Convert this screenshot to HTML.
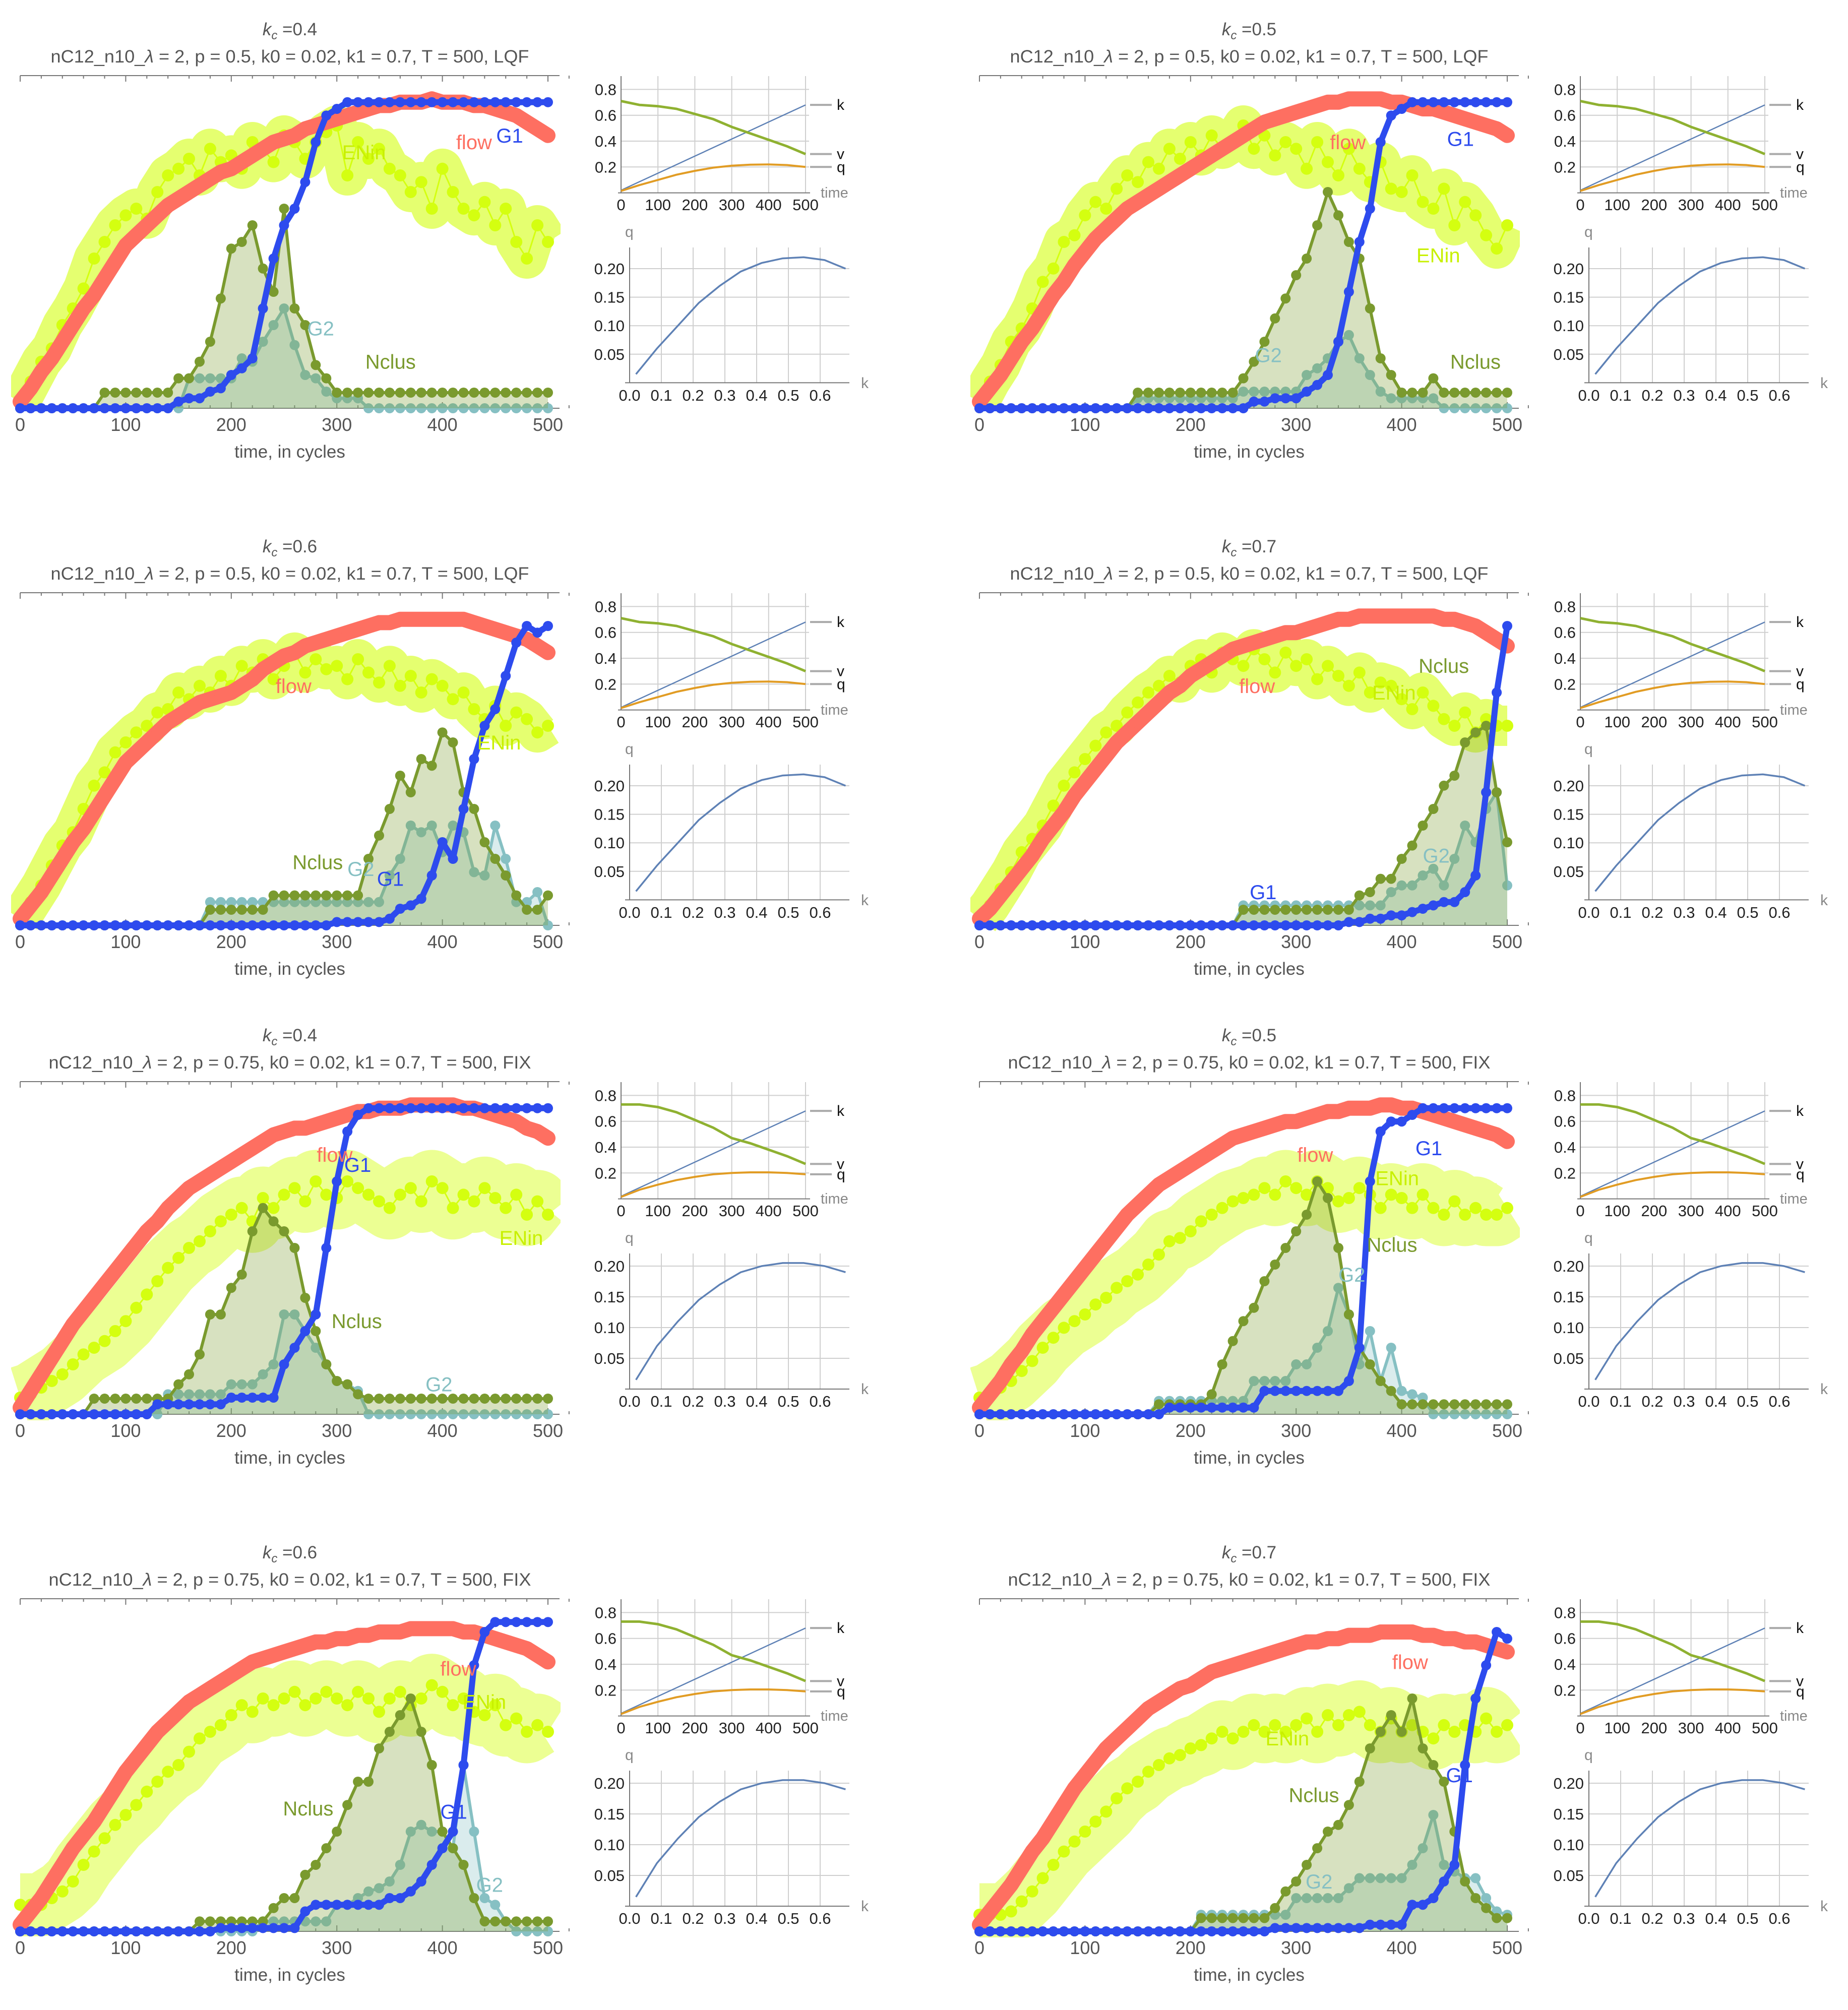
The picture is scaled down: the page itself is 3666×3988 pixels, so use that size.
<!DOCTYPE html>
<html><head><meta charset="utf-8"><title>Traffic simulation panels</title>
<style>html,body{margin:0;padding:0;background:#fff}svg{display:block}text{font-family:"Liberation Sans",Arial,sans-serif}</style>
</head><body>
<svg id="chart" xmlns="http://www.w3.org/2000/svg" width="3666" height="3988" viewBox="0 0 3666 3988">
<defs><clipPath id="plotclip"><rect x="22" y="152" width="1090" height="670"/></clipPath></defs>
<rect width="3666" height="3988" fill="#fff"/>
</svg>
<script>
const tGrid=[0,10,20,30,40,50,60,70,80,90,100,110,120,130,140,150,160,170,180,190,200,210,220,230,240,250,260,270,280,290,300,310,320,330,340,350,360,370,380,390,400,410,420,430,440,450,460,470,480,490,500];
const xTicks=[0,100,200,300,400,500];
const sTime=[0,50,100,150,200,250,300,350,400,450,500];
const kT=[0.02,0.086,0.152,0.218,0.284,0.35,0.416,0.482,0.548,0.614,0.68];
const vLQF=[0.71,0.68,0.67,0.65,0.61,0.57,0.51,0.46,0.41,0.36,0.3];
const qLQF=[0.015,0.06,0.1,0.14,0.17,0.195,0.21,0.218,0.22,0.215,0.2];
const vFIX=[0.73,0.73,0.71,0.67,0.61,0.55,0.47,0.43,0.38,0.33,0.27];
const qFIX=[0.015,0.07,0.11,0.145,0.17,0.19,0.2,0.205,0.205,0.2,0.19];
const sYTicks=[0.2,0.4,0.6,0.8];
const sYLabels=['0.2','0.4','0.6','0.8'];
const qkYTicks=[0.05,0.1,0.15,0.2];
const qkYLabels=['0.05','0.10','0.15','0.20'];
const qkXTicks=[0,0.1,0.2,0.3,0.4,0.5,0.6];
const qkXLabels=['0.0','0.1','0.2','0.3','0.4','0.5','0.6'];

const F1=[0.02,0.06,0.11,0.15,0.2,0.25,0.3,0.34,0.39,0.44,0.49,0.52,0.55,0.58,0.61,0.63,0.65,0.67,0.69,0.71,0.72,0.74,0.76,0.78,0.8,0.81,0.82,0.84,0.85,0.86,0.87,0.88,0.89,0.9,0.91,0.91,0.92,0.92,0.92,0.93,0.92,0.92,0.92,0.91,0.91,0.9,0.89,0.88,0.86,0.84,0.82];
const F2=[0.02,0.06,0.1,0.15,0.2,0.24,0.29,0.34,0.38,0.43,0.47,0.51,0.54,0.57,0.6,0.62,0.64,0.66,0.68,0.7,0.72,0.74,0.76,0.78,0.8,0.82,0.84,0.86,0.87,0.88,0.89,0.9,0.91,0.92,0.92,0.93,0.93,0.93,0.93,0.92,0.92,0.91,0.9,0.9,0.89,0.88,0.87,0.86,0.85,0.84,0.82];
const F3=[0.02,0.06,0.1,0.15,0.2,0.25,0.29,0.34,0.39,0.44,0.49,0.52,0.55,0.58,0.61,0.63,0.65,0.67,0.68,0.69,0.7,0.72,0.74,0.77,0.79,0.81,0.82,0.84,0.85,0.86,0.87,0.88,0.89,0.9,0.91,0.91,0.92,0.92,0.92,0.92,0.92,0.92,0.92,0.91,0.9,0.89,0.88,0.87,0.86,0.84,0.82];
const F4=[0.02,0.05,0.09,0.13,0.17,0.21,0.26,0.3,0.34,0.39,0.43,0.47,0.51,0.55,0.58,0.61,0.64,0.67,0.7,0.72,0.75,0.77,0.79,0.81,0.83,0.84,0.85,0.86,0.87,0.88,0.88,0.89,0.9,0.91,0.92,0.92,0.93,0.93,0.93,0.93,0.93,0.93,0.93,0.93,0.92,0.92,0.91,0.9,0.88,0.86,0.84];
const F5=[0.02,0.07,0.12,0.17,0.22,0.27,0.31,0.35,0.39,0.43,0.47,0.51,0.55,0.58,0.62,0.65,0.68,0.7,0.72,0.74,0.76,0.78,0.8,0.82,0.84,0.85,0.86,0.86,0.87,0.88,0.89,0.9,0.91,0.91,0.92,0.92,0.92,0.93,0.93,0.93,0.93,0.93,0.92,0.92,0.91,0.9,0.89,0.88,0.86,0.85,0.83];
const F6=[0.02,0.06,0.1,0.15,0.19,0.24,0.28,0.32,0.36,0.4,0.44,0.48,0.52,0.56,0.6,0.63,0.66,0.69,0.71,0.73,0.75,0.77,0.79,0.81,0.83,0.84,0.85,0.86,0.87,0.88,0.88,0.89,0.9,0.91,0.91,0.92,0.92,0.92,0.93,0.93,0.92,0.92,0.91,0.9,0.89,0.88,0.87,0.86,0.85,0.84,0.82];
const F7=[0.02,0.06,0.1,0.15,0.2,0.25,0.29,0.33,0.38,0.43,0.48,0.52,0.56,0.6,0.63,0.66,0.69,0.71,0.73,0.75,0.77,0.79,0.81,0.82,0.83,0.84,0.85,0.86,0.87,0.87,0.88,0.88,0.89,0.89,0.9,0.9,0.9,0.91,0.91,0.91,0.91,0.91,0.9,0.9,0.89,0.88,0.87,0.86,0.85,0.83,0.81];
const F8=[0.02,0.06,0.1,0.14,0.19,0.24,0.28,0.33,0.38,0.43,0.47,0.51,0.55,0.58,0.61,0.64,0.67,0.69,0.71,0.73,0.74,0.76,0.78,0.79,0.8,0.81,0.82,0.83,0.84,0.85,0.86,0.87,0.87,0.88,0.88,0.89,0.89,0.89,0.9,0.9,0.9,0.9,0.89,0.89,0.88,0.88,0.87,0.87,0.86,0.85,0.84];

const E1=[0.02,0.08,0.14,0.18,0.25,0.3,0.36,0.45,0.5,0.55,0.58,0.6,0.57,0.65,0.7,0.72,0.75,0.7,0.78,0.74,0.76,0.72,0.8,0.78,0.74,0.82,0.8,0.75,0.8,0.83,0.85,0.7,0.8,0.75,0.78,0.72,0.7,0.65,0.68,0.6,0.72,0.65,0.6,0.58,0.62,0.55,0.6,0.5,0.45,0.55,0.5];
const E2=[0.02,0.08,0.13,0.2,0.24,0.3,0.38,0.42,0.5,0.52,0.58,0.62,0.6,0.66,0.7,0.68,0.74,0.72,0.78,0.75,0.8,0.76,0.82,0.78,0.8,0.85,0.78,0.82,0.76,0.8,0.78,0.72,0.8,0.74,0.7,0.78,0.72,0.68,0.74,0.66,0.65,0.7,0.62,0.6,0.66,0.55,0.62,0.58,0.52,0.48,0.55];
const E3=[0.02,0.07,0.12,0.18,0.24,0.28,0.35,0.42,0.46,0.52,0.55,0.58,0.6,0.64,0.65,0.7,0.68,0.72,0.7,0.75,0.72,0.78,0.76,0.8,0.74,0.78,0.82,0.76,0.8,0.77,0.78,0.74,0.8,0.76,0.73,0.78,0.72,0.75,0.7,0.74,0.72,0.68,0.7,0.65,0.62,0.66,0.6,0.64,0.62,0.58,0.6];
const E4=[0.02,0.06,0.11,0.16,0.22,0.26,0.3,0.36,0.42,0.46,0.5,0.54,0.58,0.6,0.64,0.67,0.7,0.72,0.75,0.73,0.78,0.8,0.76,0.82,0.8,0.78,0.83,0.8,0.76,0.82,0.78,0.8,0.74,0.78,0.75,0.72,0.76,0.7,0.73,0.72,0.68,0.65,0.7,0.66,0.62,0.6,0.64,0.58,0.62,0.6,0.6];
const E5=[0.05,0.06,0.08,0.1,0.12,0.15,0.18,0.2,0.22,0.25,0.28,0.32,0.36,0.4,0.44,0.47,0.5,0.52,0.55,0.58,0.6,0.62,0.58,0.65,0.62,0.66,0.68,0.64,0.7,0.66,0.65,0.7,0.68,0.66,0.64,0.62,0.66,0.68,0.64,0.7,0.68,0.62,0.66,0.64,0.68,0.65,0.62,0.66,0.6,0.64,0.6];
const E6=[0.05,0.06,0.08,0.1,0.13,0.16,0.2,0.23,0.26,0.28,0.3,0.33,0.35,0.38,0.4,0.42,0.45,0.48,0.52,0.53,0.55,0.58,0.6,0.62,0.64,0.65,0.66,0.68,0.66,0.7,0.68,0.66,0.7,0.68,0.64,0.65,0.68,0.66,0.62,0.66,0.65,0.62,0.66,0.62,0.6,0.64,0.6,0.62,0.6,0.6,0.62];
const E7=[0.08,0.08,0.08,0.1,0.12,0.15,0.2,0.24,0.28,0.32,0.35,0.38,0.42,0.45,0.48,0.5,0.54,0.58,0.6,0.62,0.65,0.68,0.66,0.7,0.68,0.7,0.72,0.68,0.7,0.72,0.7,0.68,0.72,0.7,0.66,0.7,0.72,0.68,0.7,0.74,0.72,0.68,0.7,0.66,0.65,0.68,0.62,0.64,0.6,0.62,0.6];
const E8=[0.05,0.05,0.05,0.06,0.09,0.12,0.16,0.2,0.24,0.27,0.3,0.33,0.36,0.4,0.43,0.45,0.48,0.5,0.52,0.53,0.55,0.56,0.58,0.6,0.58,0.6,0.62,0.6,0.62,0.6,0.62,0.64,0.6,0.65,0.62,0.65,0.66,0.62,0.6,0.64,0.6,0.62,0.6,0.58,0.62,0.6,0.62,0.6,0.64,0.6,0.62];

const B1=[0,0,0,0,0,0,0,0,0,0,0,0,0,0,0,0.02,0.03,0.03,0.05,0.06,0.1,0.12,0.15,0.3,0.45,0.55,0.6,0.68,0.8,0.88,0.9,0.92,0.92,0.92,0.92,0.92,0.92,0.92,0.92,0.92,0.92,0.92,0.92,0.92,0.92,0.92,0.92,0.92,0.92,0.92,0.92];
const B2=[0,0,0,0,0,0,0,0,0,0,0,0,0,0,0,0,0,0,0,0,0,0,0,0,0,0,0.02,0.02,0.03,0.03,0.03,0.05,0.07,0.1,0.2,0.35,0.5,0.6,0.8,0.88,0.9,0.92,0.92,0.92,0.92,0.92,0.92,0.92,0.92,0.92,0.92];
const B3=[0,0,0,0,0,0,0,0,0,0,0,0,0,0,0,0,0,0,0,0,0,0,0,0,0,0,0,0,0,0,0.01,0.01,0.01,0.01,0.01,0.02,0.05,0.06,0.08,0.15,0.25,0.2,0.35,0.5,0.6,0.65,0.75,0.85,0.9,0.88,0.9];
const B4=[0,0,0,0,0,0,0,0,0,0,0,0,0,0,0,0,0,0,0,0,0,0,0,0,0,0,0,0,0,0,0,0,0,0,0,0.01,0.01,0.02,0.02,0.03,0.03,0.04,0.05,0.06,0.07,0.07,0.1,0.15,0.4,0.7,0.9];
const B5=[0,0,0,0,0,0,0,0,0,0,0,0,0,0.03,0.03,0.03,0.03,0.03,0.03,0.03,0.05,0.05,0.05,0.05,0.05,0.15,0.2,0.25,0.3,0.5,0.7,0.85,0.9,0.92,0.92,0.92,0.92,0.92,0.92,0.92,0.92,0.92,0.92,0.92,0.92,0.92,0.92,0.92,0.92,0.92,0.92];
const B6=[0,0,0,0,0,0,0,0,0,0,0,0,0,0,0,0,0,0,0.02,0.02,0.02,0.02,0.02,0.02,0.02,0.02,0.02,0.07,0.07,0.07,0.07,0.07,0.07,0.07,0.07,0.1,0.2,0.7,0.85,0.88,0.88,0.9,0.92,0.92,0.92,0.92,0.92,0.92,0.92,0.92,0.92];
const B7=[0,0,0,0,0,0,0,0,0,0,0,0,0,0,0,0,0,0,0,0.01,0.01,0.01,0.01,0.01,0.01,0.01,0.01,0.06,0.08,0.08,0.08,0.08,0.08,0.08,0.08,0.1,0.1,0.12,0.15,0.2,0.25,0.3,0.5,0.8,0.9,0.93,0.93,0.93,0.93,0.93,0.93];
const B8=[0,0,0,0,0,0,0,0,0,0,0,0,0,0,0,0,0,0,0,0,0,0,0,0,0,0,0,0,0.01,0.01,0.01,0.01,0.01,0.01,0.01,0.01,0.01,0.02,0.02,0.02,0.02,0.08,0.08,0.1,0.15,0.2,0.5,0.7,0.8,0.9,0.88];

const N1=[0,0,0,0,0,0,0,0,0.047,0.047,0.047,0.047,0.047,0.047,0.047,0.09,0.09,0.14,0.2,0.33,0.48,0.5,0.55,0.42,0.35,0.6,0.3,0.25,0.13,0.09,0.047,0.047,0.047,0.047,0.047,0.047,0.047,0.047,0.047,0.047,0.047,0.047,0.047,0.047,0.047,0.047,0.047,0.047,0.047,0.047,0.047];
const N2=[0,0,0,0,0,0,0,0,0,0,0,0,0,0,0,0.047,0.047,0.047,0.047,0.047,0.047,0.047,0.047,0.047,0.047,0.09,0.14,0.2,0.27,0.33,0.4,0.45,0.55,0.65,0.58,0.5,0.45,0.3,0.15,0.1,0.047,0.047,0.047,0.09,0.047,0.047,0.047,0.047,0.047,0.047,0.047];
const N3=[0,0,0,0,0,0,0,0,0,0,0,0,0,0,0,0,0,0,0.047,0.047,0.047,0.047,0.047,0.047,0.09,0.09,0.09,0.09,0.09,0.09,0.09,0.09,0.09,0.2,0.27,0.35,0.45,0.4,0.5,0.48,0.58,0.55,0.4,0.35,0.25,0.2,0.15,0.09,0.047,0.047,0.09];
const N4=[0,0,0,0,0,0,0,0,0,0,0,0,0,0,0,0,0,0,0,0,0,0,0,0,0,0.047,0.047,0.047,0.047,0.047,0.047,0.047,0.047,0.047,0.047,0.047,0.09,0.1,0.14,0.14,0.2,0.24,0.3,0.35,0.42,0.45,0.55,0.58,0.6,0.4,0.25];
const N5=[0,0,0,0,0,0,0,0.047,0.047,0.047,0.047,0.047,0.047,0.047,0.047,0.09,0.12,0.18,0.3,0.3,0.38,0.42,0.55,0.62,0.58,0.55,0.5,0.35,0.25,0.15,0.1,0.09,0.06,0.047,0.047,0.047,0.047,0.047,0.047,0.047,0.047,0.047,0.047,0.047,0.047,0.047,0.047,0.047,0.047,0.047,0.047];
const N6=[0,0,0,0,0,0,0,0,0,0,0,0,0,0,0,0,0,0.03,0.03,0.03,0.03,0.03,0.06,0.15,0.22,0.28,0.32,0.4,0.45,0.5,0.55,0.6,0.7,0.65,0.5,0.3,0.2,0.15,0.1,0.07,0.03,0.03,0.03,0.03,0.03,0.03,0.03,0.03,0.03,0.03,0.03];
const N7=[0,0,0,0,0,0,0,0,0,0,0,0,0,0,0,0,0,0.03,0.03,0.03,0.03,0.03,0.03,0.03,0.07,0.1,0.1,0.17,0.2,0.25,0.3,0.38,0.45,0.45,0.55,0.6,0.65,0.7,0.6,0.5,0.3,0.25,0.2,0.1,0.03,0.03,0.03,0.03,0.03,0.03,0.03];
const N8=[0,0,0,0,0,0,0,0,0,0,0,0,0,0,0,0,0,0,0,0,0,0.04,0.04,0.04,0.04,0.04,0.04,0.04,0.07,0.12,0.15,0.2,0.25,0.3,0.32,0.38,0.45,0.55,0.6,0.65,0.6,0.7,0.55,0.5,0.45,0.3,0.15,0.1,0.07,0.04,0.04];

const C1=[0,0,0,0,0,0,0,0,0,0,0,0,0,0,0,0,0.09,0.09,0.09,0.09,0.09,0.15,0.14,0.2,0.25,0.3,0.19,0.1,0.09,0.05,0.03,0.03,0.03,0,0,0,0,0,0,0,0,0,0,0,0,0,0,0,0,0,0];
const C2=[0,0,0,0,0,0,0,0,0,0,0,0,0,0,0,0.03,0.03,0.03,0.03,0.03,0.03,0.03,0.03,0.03,0.03,0.05,0.05,0.05,0.05,0.05,0.05,0.1,0.12,0.15,0.2,0.22,0.15,0.1,0.05,0.03,0.03,0.03,0.03,0.03,0,0,0,0,0,0,0];
const C3=[0,0,0,0,0,0,0,0,0,0,0,0,0,0,0,0,0,0,0.07,0.07,0.07,0.07,0.07,0.07,0.07,0.07,0.07,0.07,0.07,0.07,0.07,0.07,0.07,0.07,0.07,0.15,0.2,0.3,0.28,0.3,0.22,0.3,0.28,0.16,0.15,0.3,0.2,0.07,0.07,0.1,0];
const C4=[0,0,0,0,0,0,0,0,0,0,0,0,0,0,0,0,0,0,0,0,0,0,0,0,0,0.06,0.06,0.06,0.06,0.06,0.06,0.06,0.06,0.06,0.06,0.06,0.06,0.06,0.06,0.1,0.12,0.12,0.15,0.17,0.12,0.2,0.3,0.25,0.35,0.4,0.12];
const C5=[0,0,0,0,0,0,0,0,0,0,0,0,0,0,0.06,0.06,0.06,0.06,0.06,0.06,0.09,0.09,0.09,0.12,0.15,0.3,0.3,0.25,0.2,0.15,0.1,0.09,0.07,0,0,0,0,0,0,0,0,0,0,0,0,0,0,0,0,0,0];
const C6=[0,0,0,0,0,0,0,0,0,0,0,0,0,0,0,0,0,0.04,0.04,0.04,0.04,0.04,0.04,0.04,0.04,0.04,0.1,0.1,0.1,0.1,0.15,0.15,0.2,0.25,0.38,0.3,0.15,0.25,0.1,0.2,0.07,0.06,0.05,0,0,0,0,0,0,0,0];
const C7=[0,0,0,0,0,0,0,0,0,0,0,0,0,0,0,0,0,0,0,0,0,0,0,0.03,0.03,0.03,0.03,0.03,0.03,0.03,0.08,0.08,0.1,0.12,0.13,0.15,0.2,0.3,0.32,0.3,0.3,0.25,0.5,0.3,0.1,0.08,0.03,0,0,0,0];
const C8=[0,0,0,0,0,0,0,0,0,0,0,0,0,0,0,0,0,0,0,0,0,0.05,0.05,0.05,0.05,0.05,0.05,0.05,0.05,0.05,0.1,0.1,0.1,0.1,0.1,0.13,0.16,0.16,0.16,0.16,0.16,0.2,0.25,0.35,0.2,0.18,0.16,0.16,0.1,0.06,0.05];

const panels=[
 {kc:'0.4',p:'0.5',mode:'LQF',flow:F1,en:E1,g1:B1,nc:N1,g2:C1,lab:{flow:[413,0.8],G1:[451,0.82],ENin:[305,0.77],G2:[272,0.24],Nclus:[327,0.14]}},
 {kc:'0.5',p:'0.5',mode:'LQF',flow:F2,en:E2,g1:B2,nc:N2,g2:C2,lab:{flow:[332,0.8],G1:[443,0.81],ENin:[414,0.46],G2:[261,0.16],Nclus:[446,0.14]}},
 {kc:'0.6',p:'0.5',mode:'LQF',flow:F3,en:E3,g1:B3,nc:N3,g2:C3,lab:{flow:[242,0.72],G1:[338,0.14],ENin:[433,0.55],G2:[310,0.17],Nclus:[258,0.19]}},
 {kc:'0.7',p:'0.5',mode:'LQF',flow:F4,en:E4,g1:B4,nc:N4,g2:C4,lab:{flow:[246,0.72],G1:[256,0.1],ENin:[372,0.7],G2:[420,0.21],Nclus:[416,0.78]}},
 {kc:'0.4',p:'0.75',mode:'FIX',flow:F5,en:E5,g1:B5,nc:N5,g2:C5,lab:{flow:[281,0.78],G1:[307,0.75],ENin:[454,0.53],G2:[384,0.09],Nclus:[295,0.28]}},
 {kc:'0.5',p:'0.75',mode:'FIX',flow:F6,en:E6,g1:B6,nc:N6,g2:C6,lab:{flow:[301,0.78],G1:[413,0.8],ENin:[375,0.71],G2:[340,0.42],Nclus:[367,0.51]}},
 {kc:'0.6',p:'0.75',mode:'FIX',flow:F7,en:E7,g1:B7,nc:N7,g2:C7,lab:{flow:[398,0.79],G1:[398,0.36],ENin:[419,0.69],G2:[432,0.14],Nclus:[249,0.37]}},
 {kc:'0.7',p:'0.75',mode:'FIX',flow:F8,en:E8,g1:B8,nc:N8,g2:C8,lab:{flow:[391,0.81],G1:[442,0.47],ENin:[271,0.58],G2:[309,0.15],Nclus:[293,0.41]}}
];
const rowOff=[0,1026,1996,3022];
const colOff=[0,1903];
const COL={flow:'#fe6f61',en:'#d4ff10',g1:'#2d4bee',nc:'#7a9a2e',g2:'#86c0c3'};
const NS='http://www.w3.org/2000/svg';
const svg=document.getElementById('chart');
function mk(tag,attrs,parent){const e=document.createElementNS(NS,tag);for(const k in attrs)e.setAttribute(k,attrs[k]);parent.appendChild(e);return e;}
const X=t=>40+t*2.094;
const Y=v=>810-v*660;
const SX=t=>1232+t*0.732;
const SY=v=>382.6-v*256.5;
const KX=k=>1249+k*630;

function drawSeries(g,vals,color,lw,r,name,opts){
  const pts=vals.map((v,i)=>X(tGrid[i]).toFixed(1)+','+Y(v).toFixed(1)).join(' ');
  if(opts&&opts.fill){
    const area=mk('polygon',{points:X(tGrid[0])+','+Y(0)+' '+pts+' '+X(tGrid[tGrid.length-1])+','+Y(0),fill:color,'fill-opacity':opts.fill},g);
    
    
  }
  if(opts&&opts.band){
    const b=mk('polyline',{points:pts,fill:'none',stroke:color,'stroke-width':opts.band,'stroke-opacity':opts.bandOp||0.55,'stroke-linejoin':'round','stroke-linecap':'butt'},g);
    
    
  }
  const pl=mk('polyline',{points:pts,fill:'none',stroke:color,'stroke-width':lw,'stroke-linejoin':'round','stroke-linecap':'round'},g);
  
  
  vals.forEach((v,i)=>{
    const c=mk('circle',{cx:X(tGrid[i]).toFixed(1),cy:Y(v).toFixed(1),r:r,fill:color},g);
    
    
  });
}

function drawPanel(cfg,idx){
  const g=mk('g',{transform:'translate('+colOff[idx%2]+','+rowOff[Math.floor(idx/2)]+')'},svg);
  
  
  const t1=mk('text',{x:575,y:70,'text-anchor':'middle','font-size':35,fill:'#555'},g);
  t1.innerHTML='<tspan font-style="italic">k</tspan><tspan font-style="italic" font-size="24" dy="8">c</tspan><tspan dy="-8"> =' + cfg.kc + '</tspan>';
  
  
  const t2=mk('text',{x:575,y:124,'text-anchor':'middle','font-size':35,fill:'#555',textLength:(cfg.mode==='FIX'?957:949),lengthAdjust:'spacingAndGlyphs'},g);
  t2.innerHTML='nC12_n10_<tspan font-style="italic">λ</tspan> = 2, p = '+cfg.p+', k0 = 0.02, k1 = 0.7, T = 500, '+cfg.mode;
  
  
  const top=mk('line',{x1:40,y1:150,x2:1110,y2:150,stroke:'#777','stroke-width':2},g);
  
  
  const ax=mk('line',{x1:40,y1:810,x2:1110,y2:810,stroke:'#777','stroke-width':2},g);
  
  
  for(let t=0;t<=520;t+=20){
    const big=t%100===0;
    const a=mk('line',{x1:X(t),y1:150,x2:X(t),y2:150+(big?12:6),stroke:'#777','stroke-width':2},g);
    
    
    const b=mk('line',{x1:X(t),y1:810,x2:X(t),y2:810-(big?12:6),stroke:'#777','stroke-width':2},g);
    
    
  }
  xTicks.forEach(t=>{
    const l=mk('text',{x:X(t),y:855,'text-anchor':'middle','font-size':36,fill:'#555'},g);
    l.textContent=String(t);
    
    
  });
  const xl=mk('text',{x:575,y:908,'text-anchor':'middle','font-size':35,fill:'#555'},g);
  xl.textContent='time, in cycles';
  
  
  const fix=cfg.mode==='FIX';
  const pg=mk('g',{'clip-path':'url(#plotclip)'},g);
  
  
  drawSeries(pg,cfg.en,COL.en,3,12,'enin',{band:fix?125:80,bandOp:fix?0.45:0.6});
  drawSeries(pg,cfg.g2,COL.g2,6,10,'g2',{fill:0.3});
  drawSeries(pg,cfg.nc,COL.nc,6,10,'nclus',{fill:0.3});
  drawSeries(pg,cfg.flow,COL.flow,30,12,'flow');
  drawSeries(pg,cfg.g1,COL.g1,12,10,'g1');
  const lc={flow:COL.flow,G1:COL.g1,ENin:'#c8f000',G2:COL.g2,Nclus:COL.nc};
  for(const k in cfg.lab){
    const p=cfg.lab[k];
    const tx=mk('text',{x:X(p[0]),y:Y(p[1])+14,'font-size':40,fill:lc[k]},g);
    tx.textContent=k;
    
    
  }
  drawSmall(g,cfg.mode);
}

function drawSmall(g,mode){
  const v=mode==='FIX'?vFIX:vLQF, q=mode==='FIX'?qFIX:qLQF;
  const sg=mk('g',{},g);
  
  
  for(let t=100;t<=500;t+=100){
    const l=mk('line',{x1:SX(t),y1:151,x2:SX(t),y2:382.6,stroke:'#cfcfcf','stroke-width':2},sg);
    
    
  }
  sYTicks.forEach((y,i)=>{
    const l=mk('line',{x1:1232,y1:SY(y),x2:1605,y2:SY(y),stroke:'#cfcfcf','stroke-width':2},sg);
    
    
    const tx=mk('text',{x:1223,y:SY(y)+11,'text-anchor':'end','font-size':31,fill:'#222'},sg);
    tx.textContent=sYLabels[i];
    
    
  });
  const ya=mk('line',{x1:1232,y1:151,x2:1232,y2:382.6,stroke:'#777','stroke-width':2},sg);
  
  
  const xa=mk('line',{x1:1226,y1:382.6,x2:1607,y2:382.6,stroke:'#777','stroke-width':2},sg);
  
  
  xTicks.forEach(t=>{
    const tx=mk('text',{x:SX(t),y:417,'text-anchor':'middle','font-size':31,fill:'#222'},sg);
    tx.textContent=String(t);
    
    
  });
  const tl=mk('text',{x:1628,y:392,'font-size':29,fill:'#888'},sg);
  tl.textContent='time';
  
  
  const ser=[['k',kT,'#5e81b5'],['v',v,'#8fb131'],['q',q,'#e19c24']];
  ser.forEach(s=>{
    const pts=s[1].map((y,i)=>SX(sTime[i]).toFixed(1)+','+SY(y).toFixed(1)).join(' ');
    const pl=mk('polyline',{points:pts,fill:'none',stroke:s[2],'stroke-width':s[0]==='k'?2.5:(s[0]==='v'?5:4)},sg);
    
    
    const last=s[1][s[1].length-1];
    const ll=mk('line',{x1:1607,y1:SY(last),x2:1650,y2:SY(last),stroke:'#aaa','stroke-width':4},sg);
    
    
    const lt=mk('text',{x:1660,y:SY(last)+10,'font-size':30,fill:'#111'},sg);
    lt.textContent=s[0];
    
    
  });
  const ky0=mode==='FIX'?760:759.4, kys=mode==='FIX'?1220:1132;
  const KY=y=>ky0-y*kys;
  const bg=mk('g',{},g);
  
  
  qkXTicks.forEach((k,i)=>{
    if(i>0){const l=mk('line',{x1:KX(k),y1:491,x2:KX(k),y2:ky0,stroke:'#cfcfcf','stroke-width':2},bg);
    
    }
    const tx=mk('text',{x:KX(k),y:795,'text-anchor':'middle','font-size':31,fill:'#222'},bg);
    tx.textContent=qkXLabels[i];
    
    
  });
  qkYTicks.forEach((y,i)=>{
    const l=mk('line',{x1:1249,y1:KY(y),x2:1685,y2:KY(y),stroke:'#cfcfcf','stroke-width':2},bg);
    
    
    const tx=mk('text',{x:1239,y:KY(y)+11,'text-anchor':'end','font-size':31,fill:'#222'},bg);
    tx.textContent=qkYLabels[i];
    
    
  });
  const bya=mk('line',{x1:1249,y1:491,x2:1249,y2:ky0,stroke:'#777','stroke-width':2},bg);
  
  
  const bxa=mk('line',{x1:1240,y1:ky0,x2:1685,y2:ky0,stroke:'#777','stroke-width':2},bg);
  
  
  const qk=kT.map((k,i)=>KX(k).toFixed(1)+','+KY(q[i]).toFixed(1)).join(' ');
  const qpl=mk('polyline',{points:qk,fill:'none',stroke:'#5e81b5','stroke-width':3.5},bg);
  
  
  const ql=mk('text',{x:1240,y:470,'font-size':30,fill:'#888'},bg);
  ql.textContent='q';
  
  
  const kl=mk('text',{x:1708,y:770,'font-size':30,fill:'#888'},bg);
  kl.textContent='k';
  
  
}
panels.forEach((p,i)=>drawPanel(p,i));
</script>
</body></html>
